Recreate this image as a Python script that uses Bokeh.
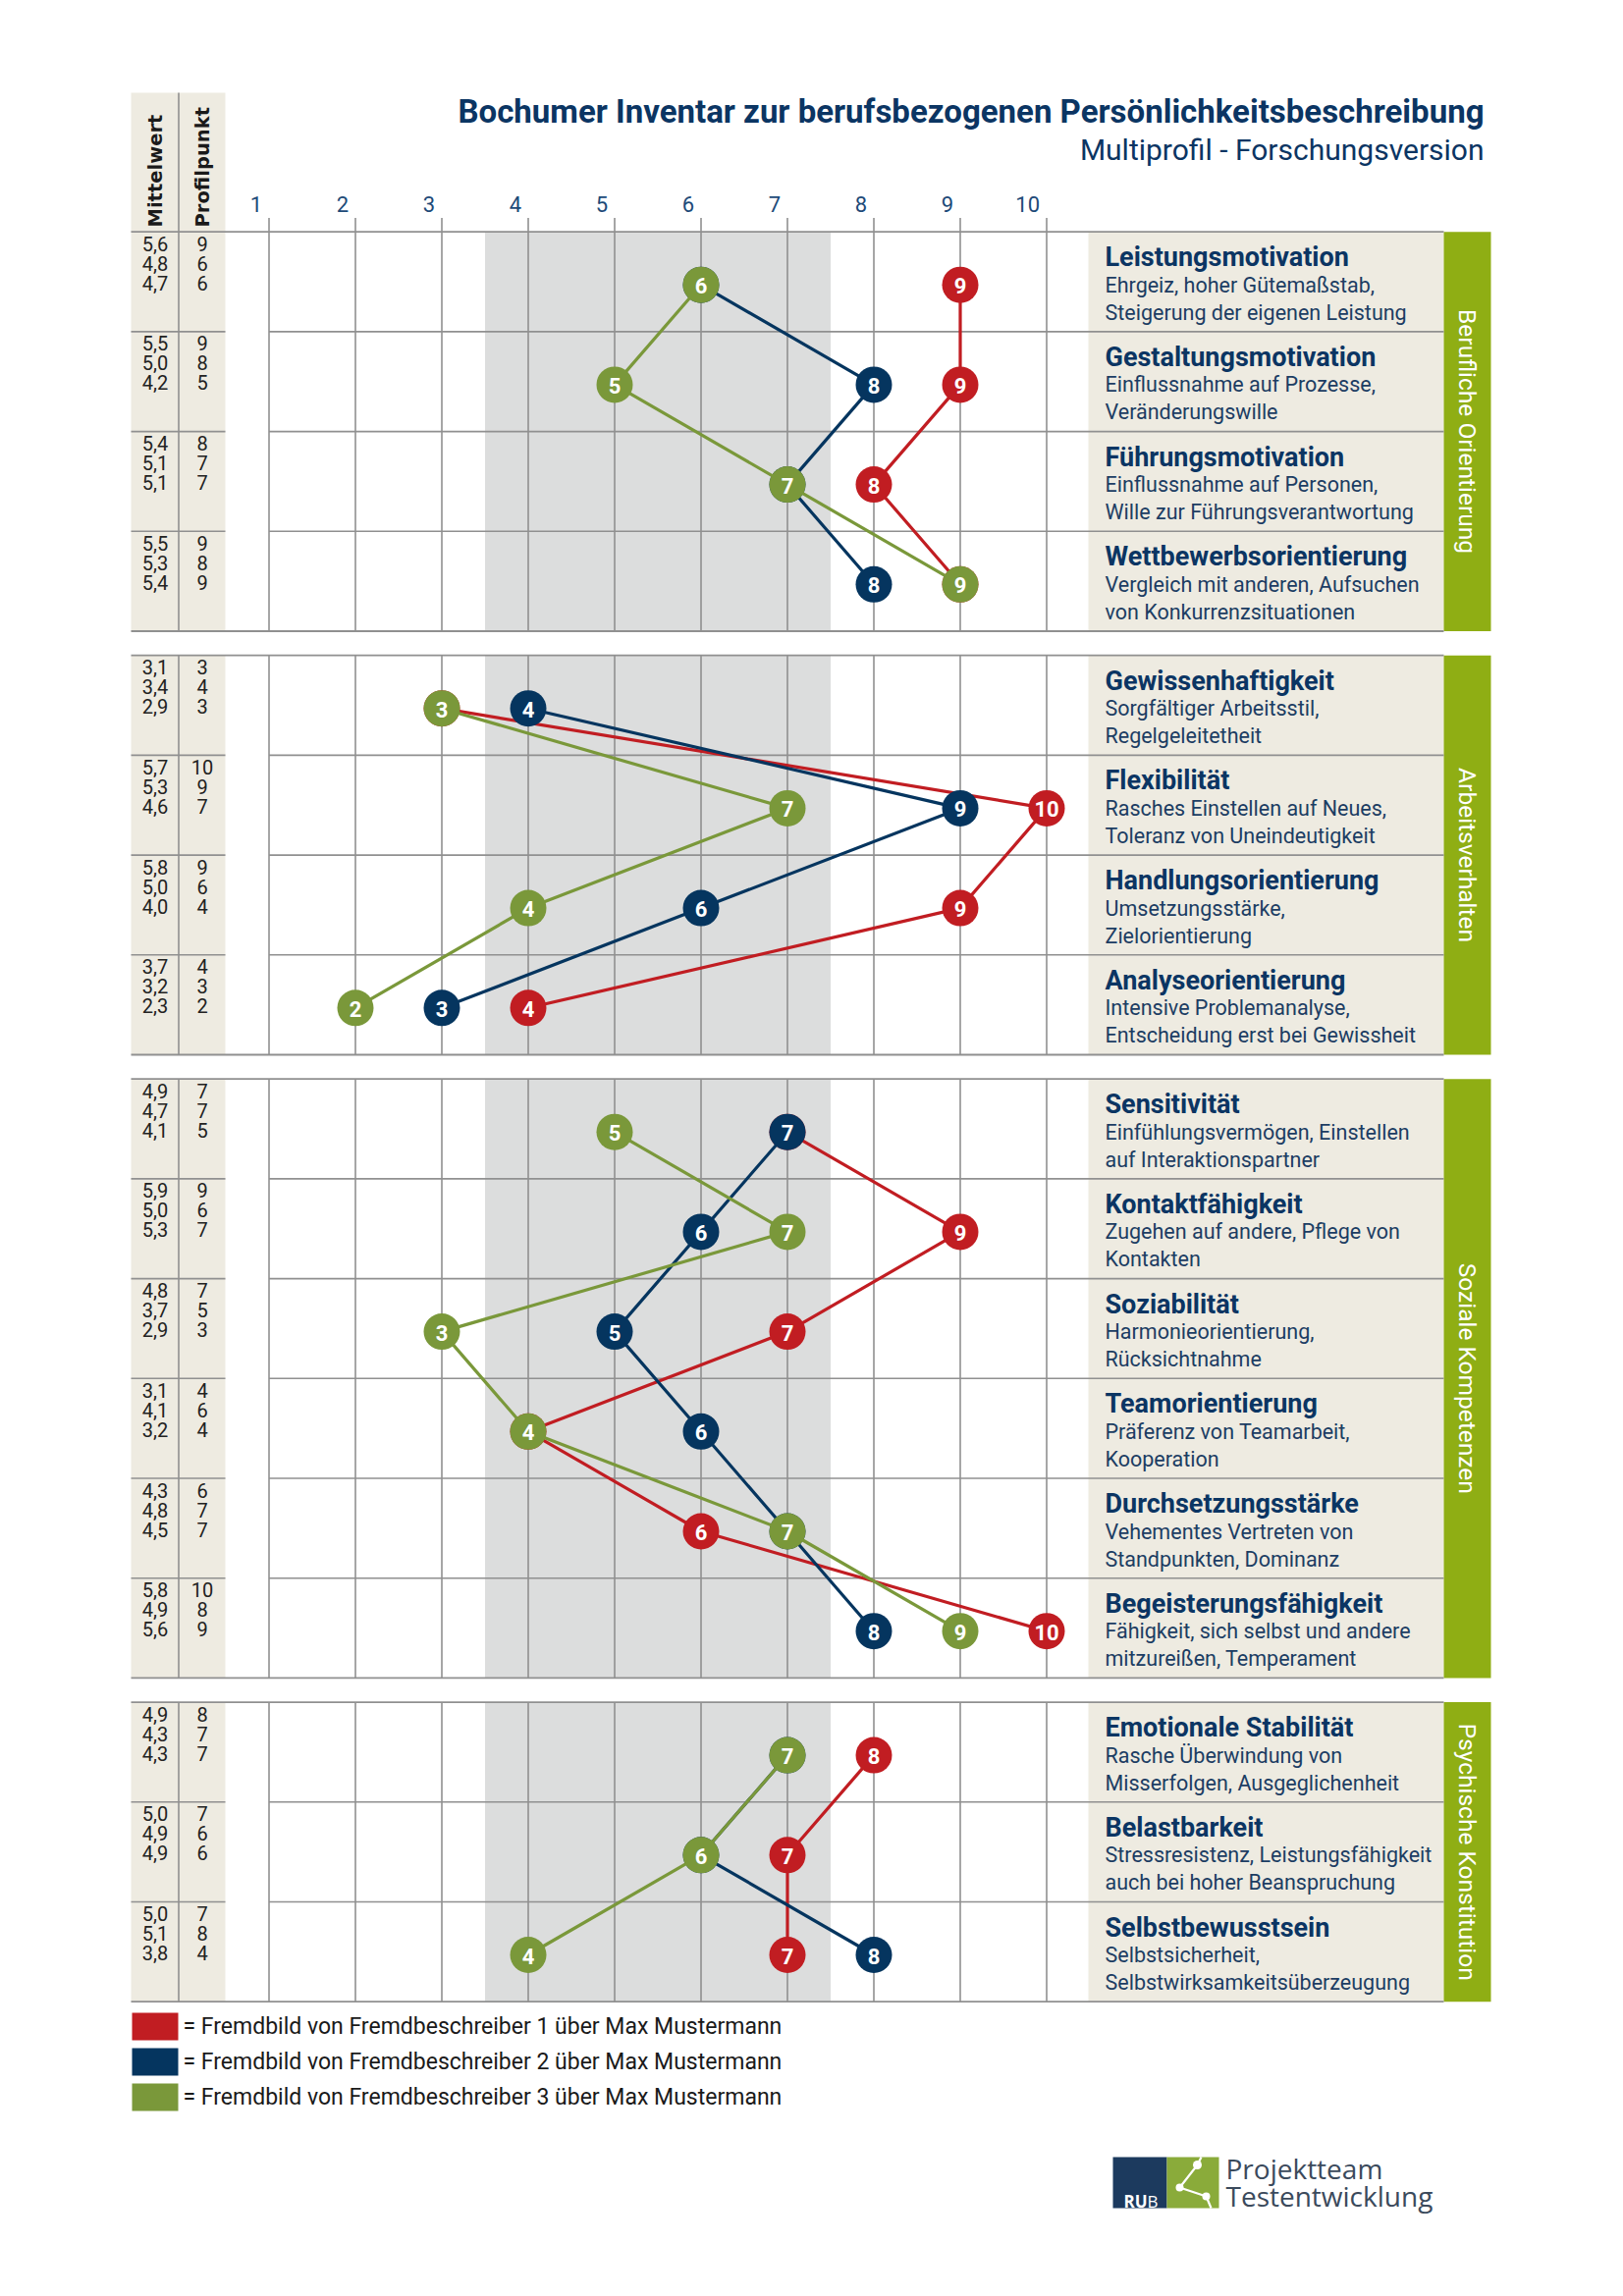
import numpy as np
from bokeh.plotting import figure
from bokeh.models import Range1d
from bokeh.core.properties import value
from bokeh.embed import file_html
from bokeh.resources import INLINE

# ---------------- data ----------------
title = "Bochumer Inventar zur berufsbezogenen Persönlichkeitsbeschreibung"
subtitle = "Multiprofil - Forschungsversion"
sections = ["Berufliche Orientierung", "Arbeitsverhalten", "Soziale Kompetenzen", "Psychische Konstitution"]
section_sizes = [4, 4, 6, 3]
scale_names = ["Leistungsmotivation", "Gestaltungsmotivation", "Führungsmotivation", "Wettbewerbsorientierung",
               "Gewissenhaftigkeit", "Flexibilität", "Handlungsorientierung", "Analyseorientierung",
               "Sensitivität", "Kontaktfähigkeit", "Soziabilität", "Teamorientierung",
               "Durchsetzungsstärke", "Begeisterungsfähigkeit",
               "Emotionale Stabilität", "Belastbarkeit", "Selbstbewusstsein"]
scale_desc1 = ["Ehrgeiz, hoher Gütemaßstab,", "Einflussnahme auf Prozesse,", "Einflussnahme auf Personen,",
               "Vergleich mit anderen, Aufsuchen", "Sorgfältiger Arbeitsstil,", "Rasches Einstellen auf Neues,",
               "Umsetzungsstärke,", "Intensive Problemanalyse,", "Einfühlungsvermögen, Einstellen",
               "Zugehen auf andere, Pflege von", "Harmonieorientierung,", "Präferenz von Teamarbeit,",
               "Vehementes Vertreten von", "Fähigkeit, sich selbst und andere", "Rasche Überwindung von",
               "Stressresistenz, Leistungsfähigkeit", "Selbstsicherheit,"]
scale_desc2 = ["Steigerung der eigenen Leistung", "Veränderungswille", "Wille zur Führungsverantwortung",
               "von Konkurrenzsituationen", "Regelgeleitetheit", "Toleranz von Uneindeutigkeit",
               "Zielorientierung", "Entscheidung erst bei Gewissheit", "auf Interaktionspartner",
               "Kontakten", "Rücksichtnahme", "Kooperation", "Standpunkten, Dominanz",
               "mitzureißen, Temperament", "Misserfolgen, Ausgeglichenheit",
               "auch bei hoher Beanspruchung", "Selbstwirksamkeitsüberzeugung"]

profil_red = [9, 9, 8, 9, 3, 10, 9, 4, 7, 9, 7, 4, 6, 10, 8, 7, 7]
profil_navy = [6, 8, 7, 8, 4, 9, 6, 3, 7, 6, 5, 6, 7, 8, 7, 6, 8]
profil_green = [6, 5, 7, 9, 3, 7, 4, 2, 5, 7, 3, 4, 7, 9, 7, 6, 4]

mittel_red = [5.6, 5.5, 5.4, 5.5, 3.1, 5.7, 5.8, 3.7, 4.9, 5.9, 4.8, 3.1, 4.3, 5.8, 4.9, 5.0, 5.0]
mittel_navy = [4.8, 5.0, 5.1, 5.3, 3.4, 5.3, 5.0, 3.2, 4.7, 5.0, 3.7, 4.1, 4.8, 4.9, 4.3, 4.9, 5.1]
mittel_green = [4.7, 4.2, 5.1, 5.4, 2.9, 4.6, 4.0, 2.3, 4.1, 5.3, 2.9, 3.2, 4.5, 5.6, 4.3, 4.9, 3.8]

tick_values = list(range(1, 11))
tick_labels = [str(v) for v in tick_values]
band_range = (3.5, 7.5)

legend_labels = ["= Fremdbild von Fremdbeschreiber 1 über Max Mustermann",
                 "= Fremdbild von Fremdbeschreiber 2 über Max Mustermann",
                 "= Fremdbild von Fremdbeschreiber 3 über Max Mustermann"]

# ---------------- style ----------------
RED = "#c11d22"
NAVY = "#05355f"
GREEN = "#7a983a"
SEC_GREEN = "#8fae14"
BEIGE = "#eeebe1"
BAND = "#dcdddd"
GRID = "#909090"
TXT_NAVY = "#0b3563"
FONT = value("Roboto")

W, H = 1637, 2323
PX = 88.0           # pixels per profile point
V1_X = 273.5        # page x of profile point 1
OFF = 0.0
x_start = 1 - (V1_X - OFF) / PX


def X(px):
    return x_start + (px - OFF) / PX


p = figure(width=W, height=H, x_range=Range1d(x_start, x_start + W / PX),
           y_range=Range1d(OFF + H, OFF), output_backend="svg", toolbar_location=None,
           x_axis_location=None, y_axis_location=None, min_border=0)
p.grid.visible = False
p.outline_line_color = None
p.background_fill_color = "white"
p.border_fill_color = "white"

R = 101.7
G = 24.7
TOP0 = 235.7

row_tops = []
sec_bounds = []
y = TOP0
for n in section_sizes:
    sec_bounds.append((y, y + n * R))
    for i in range(n):
        row_tops.append(y + i * R)
    y += n * R + G
row_tops = np.array(row_tops)

COL_L, COL_M, COL_R = 133.0, 181.5, 229.0
PANEL_L, PANEL_R, BAR_R = 1108.0, 1470.0, 1518.0

# ---------------- header ----------------
p.quad(left=[X(COL_L)], right=[X(COL_R)], top=[94], bottom=[TOP0], fill_color=BEIGE, line_color=None)
p.segment(x0=[X(COL_M)], y0=[94], x1=[X(COL_M)], y1=[TOP0], line_color=GRID, line_width=1.6)
p.text(x=[X(158)], y=[231], text=["Mittelwert"], angle=np.pi / 2, text_font=value("DejaVu Sans"),
       text_font_style="bold", text_font_size="19.5px", text_align="left", text_baseline="middle",
       text_color="#1a1a1a")
p.text(x=[X(206)], y=[231], text=["Profilpunkt"], angle=np.pi / 2, text_font=value("DejaVu Sans"),
       text_font_style="bold", text_font_size="19.5px", text_align="left", text_baseline="middle",
       text_color="#1a1a1a")

p.text(x=[X(1511)], y=[113], text=[title], text_font=FONT, text_font_style="bold",
       text_font_size="33px", text_align="right", text_baseline="alphabetic", text_color=TXT_NAVY)
p.text(x=[X(1511)], y=[152], text=[subtitle], text_font=FONT, text_font_size="30px",
       text_align="right", text_baseline="alphabetic", text_color=TXT_NAVY)

p.text(x=[v - 7 / PX for v in tick_values], y=[207] * 10, text=tick_labels, text_font=FONT,
       text_font_size="22px", text_align="right", text_baseline="alphabetic", text_color="#1d4a78")
p.segment(x0=tick_values, y0=[221.5] * 10, x1=tick_values, y1=[TOP0] * 10, line_color=GRID, line_width=1.6)

# ---------------- sections ----------------
for k, (top, bot) in enumerate(sec_bounds):
    p.quad(left=[X(COL_L)], right=[X(COL_R)], top=[top], bottom=[bot], fill_color=BEIGE, line_color=None)
    p.quad(left=[band_range[0]], right=[band_range[1]], top=[top], bottom=[bot], fill_color=BAND, line_color=None)
    p.quad(left=[X(PANEL_L)], right=[X(PANEL_R)], top=[top], bottom=[bot], fill_color=BEIGE, line_color=None)
    p.quad(left=[X(PANEL_R)], right=[X(BAR_R)], top=[top], bottom=[bot], fill_color=SEC_GREEN, line_color=None)
    # vertical lines
    p.segment(x0=tick_values + [X(COL_M)], y0=[top] * 11, x1=tick_values + [X(COL_M)], y1=[bot] * 11,
              line_color=GRID, line_width=1.6)
    # outer horizontal lines
    p.segment(x0=[X(COL_L)] * 2, y0=[top, bot], x1=[X(PANEL_R)] * 2, y1=[top, bot],
              line_color=GRID, line_width=1.8)
    p.text(x=[X(1494)], y=[(top + bot) / 2], text=[sections[k]], angle=-np.pi / 2, text_font=FONT,
           text_font_size="24.5px", text_align="center", text_baseline="middle", text_color="white")

inner = [t for t in row_tops if not any(abs(t - b[0]) < 1 for b in sec_bounds)]
p.segment(x0=[X(COL_L)] * len(inner), y0=inner, x1=[X(COL_R)] * len(inner), y1=inner,
          line_color=GRID, line_width=1.6)
p.segment(x0=[tick_values[0]] * len(inner), y0=inner, x1=[X(PANEL_R)] * len(inner), y1=inner,
          line_color=GRID, line_width=1.6)

# left columns numbers
fmt = lambda v: f"{v:.1f}".replace(".", ",")
for off, mv, pv in [(12, mittel_red, profil_red), (32, mittel_navy, profil_navy), (52, mittel_green, profil_green)]:
    p.text(x=[X(157.5)] * len(mv), y=list(row_tops + off), text=[fmt(v) for v in mv], text_font=FONT,
           text_font_size="20px", text_align="center", text_baseline="middle", text_color="#222222")
    p.text(x=[X(205.5)] * len(pv), y=list(row_tops + off), text=[str(v) for v in pv], text_font=FONT,
           text_font_size="20px", text_align="center", text_baseline="middle", text_color="#222222")

# label panel
p.text(x=[X(1125)] * 17, y=list(row_tops + 26), text=scale_names, text_font=FONT, text_font_style="bold",
       text_font_size="27px", text_align="left", text_baseline="alphabetic", text_color=TXT_NAVY)
p.text(x=[X(1125)] * 17, y=list(row_tops + 54), text=scale_desc1, text_font=FONT,
       text_font_size="21.5px", text_align="left", text_baseline="alphabetic", text_color="#1c3d63")
p.text(x=[X(1125)] * 17, y=list(row_tops + 82), text=scale_desc2, text_font=FONT,
       text_font_size="21.5px", text_align="left", text_baseline="alphabetic", text_color="#1c3d63")

# ---------------- profiles ----------------
marker_y = row_tops + 54
starts = np.cumsum([0] + section_sizes)
for vals, col in [(profil_red, RED), (profil_navy, NAVY), (profil_green, GREEN)]:
    for k in range(len(section_sizes)):
        s, e = starts[k], starts[k + 1]
        p.line(x=vals[s:e], y=list(marker_y[s:e]), line_color=col, line_width=3.2)
        p.scatter(x=vals[s:e], y=list(marker_y[s:e]), size=37, fill_color=col, line_color=None)
        p.text(x=vals[s:e], y=list(marker_y[s:e] + 1), text=[str(v) for v in vals[s:e]], text_font=FONT,
               text_font_style="bold", text_font_size="22px", text_align="center",
               text_baseline="middle", text_color="white")

# ---------------- legend ----------------
leg_tops = [2050, 2086, 2122]
for t, lab, col in zip(leg_tops, legend_labels, [RED, NAVY, GREEN]):
    p.quad(left=[X(134)], right=[X(181)], top=[t], bottom=[t + 28], fill_color=col, line_color=None)
    p.text(x=[X(186)], y=[t + 14], text=[lab], text_font=FONT, text_font_size="23px",
           text_align="left", text_baseline="middle", text_color="#1a1a1a")

# ---------------- logo ----------------
LX, LY = 1133, 2197
p.quad(left=[X(LX)], right=[X(LX + 55)], top=[LY], bottom=[LY + 52], fill_color="#1c3a5e", line_color=None)
p.quad(left=[X(LX + 55)], right=[X(LX + 108)], top=[LY], bottom=[LY + 52], fill_color="#8aab3a", line_color=None)
p.text(x=[X(LX + 11)], y=[LY + 45], text=["RU"], text_font=value("Open Sans"), text_font_style="bold",
       text_font_size="17px", text_align="left", text_baseline="alphabetic", text_color="white")
p.text(x=[X(LX + 35)], y=[LY + 45], text=["B"], text_font=value("Open Sans"),
       text_font_size="17px", text_align="left", text_baseline="alphabetic", text_color="white")
net_x = [LX + 90, LX + 86, LX + 68, LX + 95, LX + 100]
net_y = [LY, LY + 8, LY + 31, LY + 40, LY + 52]
p.line(x=[X(v) for v in net_x], y=net_y, line_color="white", line_width=2.2)
p.scatter(x=[X(v) for v in net_x[1:4]], y=net_y[1:4], size=[9, 8, 8], fill_color="white", line_color=None)
p.text(x=[X(1248)], y=[2208], text=["Projektteam"], text_font=value("Open Sans"), text_font_size="28px",
       text_align="left", text_baseline="alphabetic", text_color="#3b4a5c")
p.text(x=[X(1248)], y=[2236], text=["Testentwicklung"], text_font=value("Open Sans"), text_font_size="28px",
       text_align="left", text_baseline="alphabetic", text_color="#3b4a5c")

open("out.html", "w").write(file_html(p, INLINE))
